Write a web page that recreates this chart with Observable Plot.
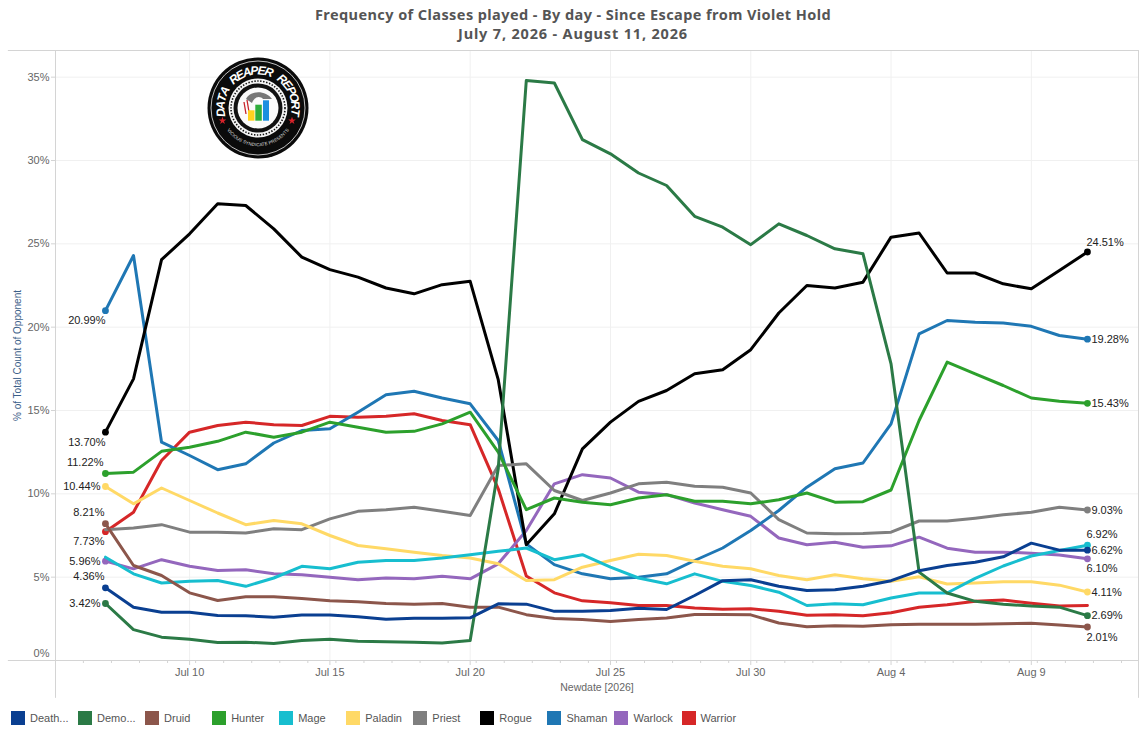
<!DOCTYPE html>
<html>
<head>
<meta charset="utf-8">
<script src="https://cdn.jsdelivr.net/npm/d3@7"></script>
<script src="https://cdn.jsdelivr.net/npm/@observablehq/plot@0.6"></script>
<style>
  html, body { margin: 0; padding: 0; background: #fff; }
  #page { position: relative; width: 1146px; height: 733px; overflow: hidden; }
  #title { height: 50px; box-sizing: border-box; width: 1146px; text-align: center;
    font: bold 14.5px/19px "Noto Sans", sans-serif; color: #555; padding-top: 5px; }
  #title .a { letter-spacing: 0.42px; }
  #title .b { letter-spacing: 0.82px; }
  #legend { position: relative; height: 33px; font: 11px "Liberation Sans", sans-serif; color: #555; }
  .item { position: absolute; top: 11px; display: flex; align-items: center; height: 14px; gap: 5px; }
  .sw { width: 14px; height: 14px; display: block; }
  #logo { position: absolute; left: 205px; top: 55px; }
  svg { display: block; }
</style>
</head>
<body>
<div id="page">
  <div id="title"><span class="a">Frequency of Classes played - By day - Since Escape from Violet Hold</span><br><span class="b">July 7, 2026 - August 11, 2026</span></div>
  <div id="chart"></div>
  <div id="legend"></div>
  <svg id="logo" width="106" height="106" viewBox="-53 -53 106 106">
    <defs>
      <path id="arcBot" d="M -33 19 A 38 38 0 0 0 33 19"/>
    </defs>
    <circle r="50.5" fill="#0b0b0b"/>
    <circle r="47" fill="none" stroke="#eee" stroke-width="0.8"/>
    <g id="logoLetters"></g>
    <text font-family="'Liberation Sans'" font-size="4.6" fill="#ddd"><textPath href="#arcBot" startOffset="50%" text-anchor="middle">VICIOUS SYNDICATE PRESENTS</textPath></text>
    <circle r="29.5" fill="#f4f4f4"/>
    <circle r="27" fill="none" stroke="#111" stroke-width="1.6" stroke-dasharray="1.4 1.6"/>
    <circle r="24.5" fill="#111"/>
    <circle r="20.5" fill="#fbfbfb"/>
    <path d="M-12 -9 C-8 -18 8 -18 14 -9 L 5 -9 C 2 -12 -3 -12 -6 -5 Z" fill="#777"/>
    <path d="M-14 -6 L-12 6 M-11 -8 L-9 4" stroke="#c8232a" stroke-width="1.3" fill="none"/>
    <rect x="-10" y="2.3" width="6.5" height="10.4" fill="#ffd21f"/>
    <rect x="-2.7" y="-3.3" width="6.5" height="16" fill="#2fae3c"/>
    <rect x="5" y="-7.7" width="6" height="20.4" fill="#1b8fe0"/>
    <path transform="translate(-35.5,12.7)" d="M0,-4 L1,-1.3 3.8,-1.3 1.5,0.5 2.4,3.2 0,1.6 -2.4,3.2 -1.5,0.5 -3.8,-1.3 -1,-1.3 Z" fill="#d8232a"/>
    <path transform="translate(34,12.7)" d="M0,-4 L1,-1.3 3.8,-1.3 1.5,0.5 2.4,3.2 0,1.6 -2.4,3.2 -1.5,0.5 -3.8,-1.3 -1,-1.3 Z" fill="#d8232a"/>
  </svg>
</div>
<script>
const classes = ["Death Knight","Demon Hunter","Druid","Hunter","Mage","Paladin","Priest","Rogue","Shaman","Warlock","Warrior"];
const legendLabels = ["Death...","Demo...","Druid","Hunter","Mage","Paladin","Priest","Rogue","Shaman","Warlock","Warrior"];
const colors = ["#0a3f91","#2b7a46","#8c564b","#2ca02c","#17becf","#ffd966","#7f7f7f","#000000","#1f77b4","#9467bd","#d62728"];

const deathKnight = [4.36,3.2,2.9,2.9,2.7,2.68,2.6,2.73,2.73,2.63,2.48,2.53,2.53,2.56,3.4,3.38,2.95,2.95,3.0,3.14,3.06,3.9,4.79,4.85,4.45,4.2,4.25,4.45,4.79,5.39,5.7,5.9,6.22,7.04,6.62,6.62];
const demonHunter = [3.42,1.85,1.4,1.27,1.08,1.1,1.02,1.2,1.28,1.15,1.13,1.1,1.05,1.2,11.5,34.8,34.65,31.25,30.4,29.25,28.5,26.65,26.0,24.95,26.2,25.5,24.7,24.4,17.8,5.3,4.05,3.55,3.38,3.27,3.2,2.69];
const druid = [8.21,5.7,5.1,4.06,3.6,3.83,3.83,3.72,3.58,3.52,3.42,3.38,3.42,3.2,3.2,2.75,2.52,2.46,2.34,2.46,2.55,2.76,2.76,2.74,2.25,2.03,2.08,2.05,2.14,2.18,2.18,2.17,2.2,2.24,2.13,2.01];
const hunter = [11.22,11.3,12.55,12.8,13.15,13.7,13.4,13.7,14.3,14.0,13.7,13.75,14.2,14.9,12.5,9.05,9.75,9.5,9.35,9.75,9.95,9.55,9.55,9.4,9.65,10.05,9.5,9.53,10.23,14.4,17.9,17.2,16.5,15.75,15.55,15.43];
const mage = [6.2,5.2,4.65,4.75,4.8,4.45,4.95,5.65,5.5,5.9,6.0,6.0,6.15,6.35,6.55,6.75,6.05,6.35,5.6,4.95,4.6,5.2,4.75,4.5,4.1,3.3,3.4,3.35,3.75,4.05,4.05,4.93,5.67,6.27,6.6,6.92];
const paladin = [10.44,9.4,10.35,9.6,8.85,8.15,8.4,8.2,7.5,6.9,6.7,6.5,6.3,6.15,5.8,4.8,4.85,5.6,6.0,6.38,6.3,5.95,5.65,5.5,5.1,4.85,5.15,4.9,4.75,5.02,4.59,4.65,4.72,4.72,4.52,4.11];
const priest = [7.85,7.95,8.15,7.7,7.7,7.65,7.9,7.85,8.5,8.95,9.05,9.2,8.95,8.7,11.7,11.8,10.2,9.6,10.05,10.6,10.7,10.45,10.4,10.05,8.45,7.65,7.6,7.62,7.7,8.37,8.37,8.54,8.74,8.9,9.2,9.03];
const rogue = [13.70,16.9,24.05,25.6,27.4,27.3,25.9,24.2,23.45,23.0,22.35,22.0,22.55,22.75,16.85,6.95,8.8,12.7,14.3,15.55,16.2,17.2,17.45,18.65,20.85,22.5,22.35,22.7,25.4,25.65,23.25,23.25,22.6,22.3,23.4,24.51];
const shaman = [20.99,24.3,13.1,12.3,11.45,11.8,13.05,13.8,13.9,14.9,15.95,16.15,15.75,15.4,13.2,7.0,5.75,5.2,4.9,5.0,5.2,6.0,6.75,7.8,9.0,10.4,11.5,11.85,14.2,19.6,20.4,20.3,20.25,20.05,19.5,19.28];
const warlock = [5.96,5.5,6.05,5.65,5.4,5.45,5.2,5.15,5.0,4.85,4.95,4.9,5.05,4.9,5.8,7.8,10.6,11.15,10.95,10.1,9.95,9.45,9.05,8.65,7.35,6.95,7.1,6.8,6.88,7.4,6.74,6.5,6.5,6.44,6.33,6.10];
const warrior = [7.73,8.9,12.0,13.7,14.1,14.3,14.15,14.1,14.65,14.6,14.65,14.8,14.4,14.15,10.3,5.07,4.06,3.58,3.47,3.3,3.3,3.15,3.08,3.1,2.95,2.72,2.75,2.68,2.87,3.2,3.35,3.55,3.63,3.44,3.27,3.3];

const seriesValues = [deathKnight,demonHunter,druid,hunter,mage,paladin,priest,rogue,shaman,warlock,warrior];

const DAY = 864e5;
const firstDay = Date.UTC(2026, 6, 7);
const days = d3.range(36).map(i => new Date(firstDay + i * DAY));
const majorTicks = ["2026-07-10","2026-07-15","2026-07-20","2026-07-25","2026-07-30","2026-08-04","2026-08-09"].map(d => new Date(d + "T00:00:00Z"));
const yTicks = [5,10,15,20,25,30,35];

const xDomain = [new Date(firstDay - 1.78 * DAY), new Date(firstDay + 36.82 * DAY)];
const xLeftOver = new Date(firstDay - 3.46 * DAY);
const yTop = 36.6, yBelow = -2.27;
const minorDays = d3.range(-1, 37).map(i => new Date(firstDay + i * DAY));

// [class, point index, dx, dy, anchor]
const endLabels = [
  ["Rogue",0,0,10,"end"],["Shaman",0,0,10,"end"],["Hunter",0,-2,-11,"end"],["Paladin",0,-5,0,"end"],
  ["Druid",0,-1,-11,"end"],["Warrior",0,-1,10,"end"],["Warlock",0,-5,0,"end"],["Death Knight",0,-1,-11,"end"],["Demon Hunter",0,-5,0,"end"],
  ["Rogue",35,-1,-10,"start"],["Shaman",35,4,0,"start"],["Hunter",35,4,0,"start"],["Priest",35,4,0,"start"],
  ["Mage",35,-1,-11,"start"],["Death Knight",35,4,0,"start"],["Warlock",35,-1,10,"start"],["Paladin",35,4,0,"start"],
  ["Demon Hunter",35,4,0,"start"],["Druid",35,-1,10,"start"]
];

const rows = classes.flatMap((c, k) => seriesValues[k].map((v, i) => ({cls: c, date: days[i], value: v})));
const labelRows = endLabels.map(([c, i, dx, dy, anchor]) => {
  const v = seriesValues[classes.indexOf(c)][i];
  return {cls: c, date: days[i], value: v, dx, dy, anchor, text: d3.format(".2f")(v) + "%"};
});
const gridColor = "#f0f0f0", axisColor = "#d4d4d4", tickText = "#666";

const seriesMarks = classes.slice().reverse().flatMap(c => {
  const own = rows.filter(r => r.cls === c);
  const dots = labelRows.filter(r => r.cls === c);
  return [
    Plot.line(own, {x: "date", y: "value", stroke: "cls", strokeWidth: 3, strokeLinejoin: "round", curve: "linear"}),
    Plot.dot(dots, {x: "date", y: "value", fill: "cls", r: 3.4})
  ];
});
const labelMarks = labelRows.map(r => Plot.text([r], {
  x: "date", y: "value", text: "text", dx: r.dx, dy: r.dy, textAnchor: r.anchor,
  fill: "#222", fontSize: 11, fontFamily: "Liberation Sans"
}));

const chart = Plot.plot({
  width: 1146, height: 650,
  marginLeft: 55, marginRight: 8, marginTop: 0, marginBottom: 40,
  style: {background: "#fff", fontFamily: "Liberation Sans"},
  x: {type: "utc", domain: xDomain},
  y: {domain: [0, yTop]},
  color: {domain: classes, range: colors},
  marks: [
    Plot.ruleY(yTicks, {stroke: gridColor}),
    Plot.ruleX(majorTicks, {stroke: gridColor}),
    Plot.ruleX([xDomain[0], xDomain[1]], {y1: yBelow, y2: yTop, stroke: axisColor}),
    Plot.ruleY([0, yTop], {x1: xLeftOver, x2: xDomain[1], stroke: axisColor}),
    Plot.ruleX(minorDays.filter(d => d >= xDomain[0] && d < xDomain[1] - 0.3 * DAY), {y1: 0, y2: -0.18, stroke: axisColor, dx: 6}),
    Plot.axisX(majorTicks, {tickSize: 5, tickPadding: 3, stroke: axisColor, fill: tickText, fontSize: 11, tickFormat: d3.utcFormat("%b %-d"), label: null}),
    Plot.axisY(yTicks, {tickSize: 4, tickPadding: 2, stroke: axisColor, fill: tickText, fontSize: 11, tickFormat: d => d + "%", label: null}),
    Plot.axisY([0], {tickSize: 0, tickPadding: 6, dy: -7, fill: tickText, fontSize: 11, tickFormat: d => d + "%", label: null}),
    Plot.text(["% of Total Count of Opponent"], {frameAnchor: "left", textAnchor: "middle", rotate: -90, dx: -38, fill: "#3b5e88", fontSize: 10}),
    Plot.text(["Newdate [2026]"], {frameAnchor: "bottom", dy: 30, fill: tickText, fontSize: 10.5}),
    ...seriesMarks,
    ...labelMarks
  ]
});
document.getElementById("chart").appendChild(chart);

const legend = document.getElementById("legend");
classes.forEach((c, i) => {
  const el = document.createElement("div");
  el.className = "item";
  el.style.left = (11 + i * 67.05) + "px";
  el.innerHTML = `<span class="sw" style="background:${colors[i]}"></span><span>${legendLabels[i]}</span>`;
  legend.appendChild(el);
});

// logo lettering: one glyph per angle round the top of the badge
const logoWord = "DATA REAPER REPORT";
const logoGroup = d3.select("#logoLetters");
logoWord.split("").forEach((ch, i) => {
  if (ch === " ") return;
  const a = -97 + i * (194 / (logoWord.length - 1));
  logoGroup.append("text")
    .attr("transform", `rotate(${a}) translate(0,-33.5)`)
    .attr("text-anchor", "middle")
    .attr("font-family", "Liberation Sans").attr("font-weight", "bold").attr("font-style", "italic")
    .attr("font-size", 12).attr("fill", "#fff")
    .text(ch);
});
</script>
</body>
</html>
